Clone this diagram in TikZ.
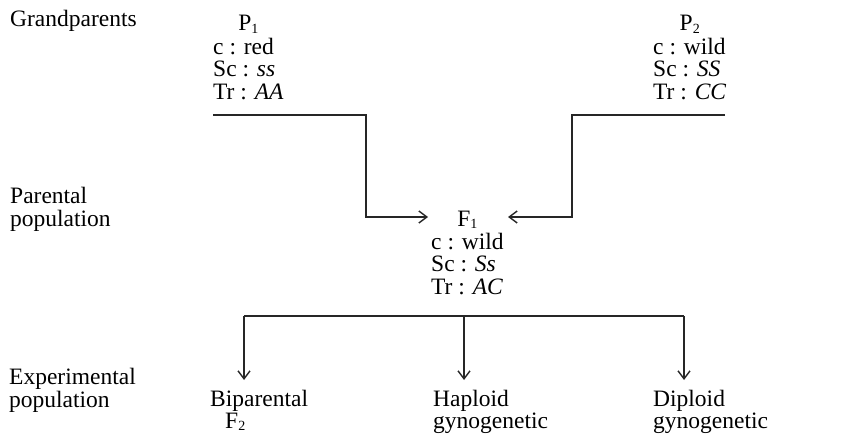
\documentclass[tikz,border=0pt]{standalone}
\usepackage{fontspec}
\setmainfont{Liberation Serif}
\usetikzlibrary{arrows.meta}
\newcommand{\stack}[1]{\begin{tabular}[t]{@{}l@{}}#1\end{tabular}}
\newcommand{\headline}[1]{\multicolumn{1}{@{}c@{}}{#1}}
\newcommand{\lowidx}[1]{\raisebox{-2pt}{\fontsize{14}{14}\selectfont #1}}
\begin{document}
\begin{tikzpicture}[x=1pt,y=-1pt,
  txt/.style={inner sep=0pt, anchor=base west, font=\fontsize{23.5}{22.5}\selectfont},
  link/.style={line width=1.1pt, draw=black!85},
  flow/.style={link, -{Straight Barb[length=8pt,width=12pt,line width=1.4pt]}}]
\useasboundingbox (0,0) rectangle (844,444);

% generation labels
\node[txt] (gp)  at (10,27)  {Grandparents};
\node[txt] (par) at (10,203) {\stack{Parental\\population}};
\node[txt] (exp) at (9,384)  {\stack{Experimental\\population}};

% the two grandparent strains and their hybrid
\node[txt] (p1) at (213,31)  {\stack{\headline{P\lowidx{1}}\\c : red\\Sc : \textit{ss}\\Tr : \textit{AA}}};
\node[txt] (p2) at (653,31)  {\stack{\headline{P\lowidx{2}}\\c : wild\\Sc : \textit{SS}\\Tr : \textit{CC}}};
\node[txt] (f1) at (431,226) {\stack{\headline{F\lowidx{1}}\\c : wild\\Sc : \textit{Ss}\\Tr : \textit{AC}}};

% experimental crosses
\node[txt] (bi) at (210,406) {\stack{Biparental\\\hspace{15pt}F\lowidx{2}}};
\node[txt] (ha) at (433,406) {\stack{Haploid\\gynogenetic}};
\node[txt] (di) at (653,406) {\stack{Diploid\\gynogenetic}};

% crossing lines
\coordinate (p1a) at (213,115);
\coordinate (p1b) at (366,115);
\coordinate (p2a) at (725,115);
\coordinate (p2b) at (572,115);
\coordinate (f1w) at (428,217);
\coordinate (f1e) at (508,217);
\draw[flow] (p1a) -- (p1b) |- (f1w);
\draw[flow] (p2a) -- (p2b) |- (f1e);

% split of the F1 into three populations
\coordinate (s1) at (244,316);
\coordinate (s2) at (464,316);
\coordinate (s3) at (684,316);
\coordinate (t1) at (244,380);
\coordinate (t2) at (464,380);
\coordinate (t3) at (684,380);
\draw[link] (s1) -- (s3);
\draw[flow] (s1) -- (t1);
\draw[flow] (s2) -- (t2);
\draw[flow] (s3) -- (t3);
\end{tikzpicture}
\end{document}
